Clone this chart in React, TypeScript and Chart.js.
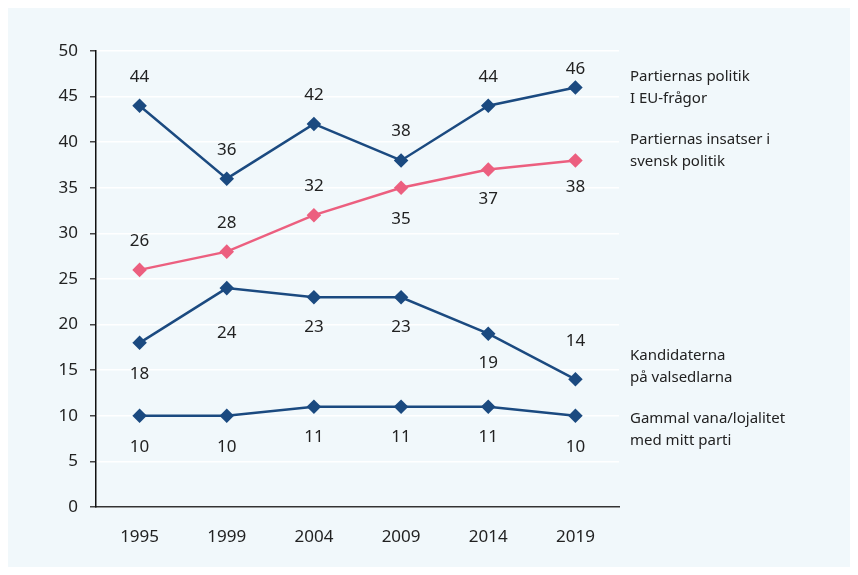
import React, { useEffect, useRef } from "react";
import { Chart, registerables } from "chart.js";

Chart.register(...registerables);

const years = ["1995", "1999", "2004", "2009", "2014", "2019"];
const euPolitik = [44, 36, 42, 38, 44, 46];
const svenskPolitik = [26, 28, 32, 35, 37, 38];
const kandidater = [18, 24, 23, 23, 19, 14];
const vana = [10, 10, 11, 11, 11, 10];

const seriesNames = [
  ["Partiernas politik", "I EU-frågor"],
  ["Partiernas insatser i", "svensk politik"],
  ["Kandidaterna", "på valsedlarna"],
  ["Gammal vana/lojalitet", "med mitt parti"],
];

// label placement (pixels relative to point)
const labelOffsets = [
  [-29, -29, -29, -29, -29, -18],
  [-29, -28, -29, 31, 30, 27],
  [31, 45, 30, 30, 29, -38],
  [31, 31, 30, 30, 30, 31],
];
const nameOffsets = [0, -10, -13, 14];

const BLUE = "#1b4a80";
const PINK = "#ec5f7f";
const FONT = "'Noto Sans', sans-serif";

const labelPlugin = {
  id: "customLabels",
  afterDatasetsDraw(chart: any) {
    const ctx = chart.ctx;
    ctx.save();
    ctx.fillStyle = "#222";
    ctx.textAlign = "center";
    ctx.textBaseline = "middle";
    ctx.font = `17px ${FONT}`;
    chart.data.datasets.forEach((ds: any, i: number) => {
      const meta = chart.getDatasetMeta(i);
      meta.data.forEach((pt: any, j: number) => {
        ctx.fillText(String(ds.data[j]), pt.x, pt.y + labelOffsets[i][j]);
      });
    });
    ctx.textAlign = "left";
    ctx.font = `15px ${FONT}`;
    const xName = chart.chartArea.right + 11;
    chart.data.datasets.forEach((ds: any, i: number) => {
      const meta = chart.getDatasetMeta(i);
      const last = meta.data[meta.data.length - 1];
      const cy = last.y + nameOffsets[i];
      ctx.fillText(seriesNames[i][0], xName, cy - 11);
      ctx.fillText(seriesNames[i][1], xName, cy + 11);
    });
    ctx.restore();
  },
};

export default function App() {
  const ref = useRef<HTMLCanvasElement>(null);
  useEffect(() => {
    if (!ref.current) return;
    Chart.defaults.font.family = FONT;
    const mk = (data: number[], color: string) => ({
      data,
      borderColor: color,
      backgroundColor: color,
      borderWidth: 2.5,
      pointStyle: "rectRot" as const,
      pointRadius: 5.5,
      pointHoverRadius: 5.5,
      tension: 0,
    });
    const chart = new Chart(ref.current, {
      type: "line",
      data: {
        labels: years,
        datasets: [
          mk(euPolitik, BLUE),
          mk(svenskPolitik, PINK),
          mk(kandidater, BLUE),
          mk(vana, BLUE),
        ],
      },
      options: {
        responsive: false,
        animation: false,
        layout: { padding: { top: 43, right: 231, bottom: 10, left: 0 } },
        plugins: { legend: { display: false }, tooltip: { enabled: false } },
        scales: {
          x: {
            offset: true,
            grid: { display: false },
            border: { display: true, color: "#333", width: 1.5 },
            ticks: { color: "#222", font: { size: 17 }, padding: 12 },
            afterFit: (s: any) => {
              s.height = 50;
            },
          },
          y: {
            min: 0,
            max: 50,
            ticks: { stepSize: 5, color: "#222", font: { size: 17 }, padding: 12 },
            grid: { color: "#ffffff", lineWidth: 1.5, tickColor: "#444", tickLength: 6 },
            border: { display: true, color: "#111", width: 1.5 },
            afterFit: (s: any) => {
              s.width = 88;
            },
          },
        },
      },
      plugins: [labelPlugin],
    });
    return () => chart.destroy();
  }, []);
  return (
    <div style={{ width: 842, height: 559, background: "#f1f8fb" }}>
      <canvas ref={ref} width={842} height={559} style={{ display: "block" }} />
    </div>
  );
}
